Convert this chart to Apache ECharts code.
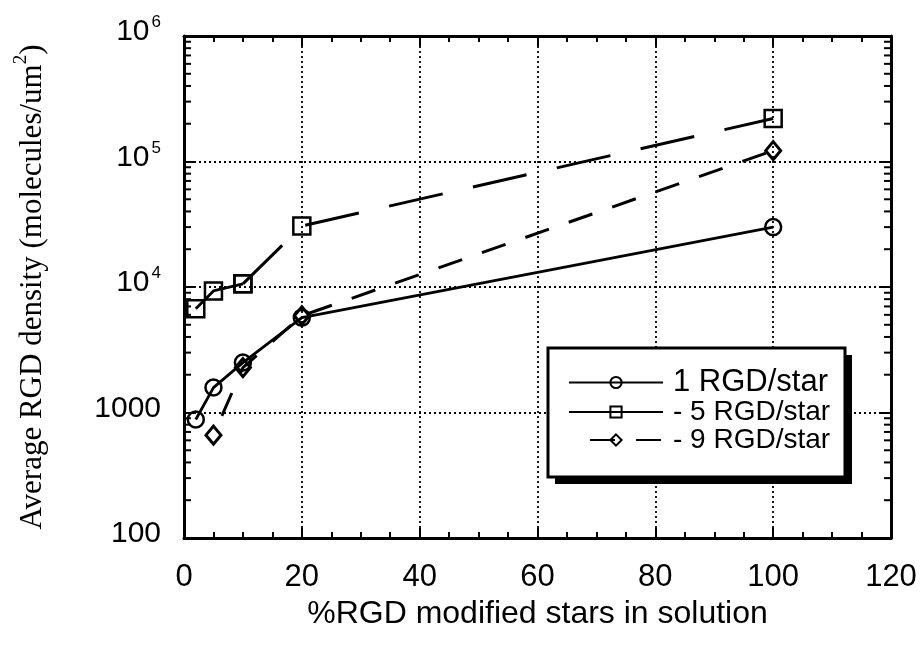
<!DOCTYPE html>
<html><head><meta charset="utf-8">
<script src="https://cdn.jsdelivr.net/npm/echarts@6/dist/echarts.min.js"></script>
<style>html,body{margin:0;padding:0;background:#fff}#c{width:920px;height:654px}</style>
</head><body><div id="c"></div>
<script>
// ---- data ----
const xOne = [2, 5, 10, 20, 100];
const yOne = [880, 1580, 2500, 5700, 30000];
const xFive = [2, 5, 10, 20, 100];
const yFive = [6700, 9300, 10600, 30600, 220000];
const xNine = [5, 10, 20, 100];
const yNine = [660, 2280, 5900, 122000];
const seriesNames = ['1 RGD/star', '- 5 RGD/star', '- 9 RGD/star'];
const xMin = 0, xMax = 120, xStep = 20;
const yMin = 100, yMax = 1000000;
const decades = [100, 1000, 10000, 100000];
const minorMult = [2, 3, 4, 5, 6, 7, 8, 9];
const xTitle = '%RGD modified stars in solution';
const yTitleMain = 'Average RGD density (molecules/um';
const yTitleSup = '2';

const pairs = (xs, ys) => xs.map((x, i) => [x, ys[i]]);
const sans = 'Liberation Sans, Arial, Helvetica, sans-serif';
const serif = 'Liberation Serif, Times New Roman, serif';

const chart = echarts.init(document.getElementById('c'), null, {renderer: 'canvas'});

const axLine = {show: true, onZero: false, lineStyle: {color: '#000', width: 3}};
const tickStyle = {color: '#000', width: 2};
const markerBase = {color: 'rgba(0,0,0,0)', borderColor: '#000', borderWidth: 2.5};

// legend frame (layout only)
const box = {x: 548, y: 348, w: 297, h: 129, off: 7};

const option = {
  animation: false,
  backgroundColor: '#fff',
  grid: {left: 184, right: 29, top: 36, bottom: 116, containLabel: false},
  graphic: [
    {type: 'rect', z: 10, shape: {x: box.x + box.off, y: box.y + box.off, width: box.w, height: box.h}, style: {fill: '#000'}, silent: true},
    {type: 'rect', z: 10, shape: {x: box.x, y: box.y, width: box.w, height: box.h}, style: {fill: '#fff', stroke: '#000', lineWidth: 3}, silent: true}
  ],
  legend: {
    left: 568, top: 367, orient: 'vertical', z: 20,
    data: seriesNames,
    padding: 0,
    itemWidth: 94, itemHeight: 14, itemGap: 0,
    formatter: n => n.charAt(0) === '-' ? '{c|' + n + '}' : '{a|' + n + '}',
    textStyle: {
      color: '#000', padding: [0, 0, 0, 5],
      rich: {
        a: {fontFamily: sans, fontSize: 31, color: '#000', lineHeight: 29},
        c: {fontFamily: sans, fontSize: 28, color: '#000', lineHeight: 29}
      }
    },
    selectedMode: false
  },
  xAxis: [{
    type: 'value', position: 'bottom', min: xMin, max: xMax, interval: xStep,
    axisLine: axLine,
    axisTick: {show: true, inside: true, length: 10, lineStyle: tickStyle},
    minorTick: {show: true, splitNumber: 4, length: 6, lineStyle: tickStyle},
    splitLine: {show: true, lineStyle: {color: '#000', type: [2, 3], width: 1.8}},
    axisLabel: {fontFamily: sans, fontSize: 31, color: '#000', margin: 24},
    name: xTitle, nameLocation: 'middle', nameGap: 54,
    nameTextStyle: {fontFamily: sans, fontSize: 32, color: '#000'}
  }, {
    type: 'value', position: 'top', min: xMin, max: xMax, interval: xStep,
    axisLine: axLine,
    axisTick: {show: true, inside: true, length: 10, lineStyle: tickStyle},
    minorTick: {show: true, splitNumber: 4, length: 6, lineStyle: tickStyle},
    splitLine: {show: false}, axisLabel: {show: false}
  }],
  yAxis: [{
    type: 'log', logBase: 10, position: 'left', min: yMin, max: yMax,
    axisLine: axLine,
    axisTick: {show: true, inside: true, length: 10, lineStyle: tickStyle},
    splitLine: {show: true, lineStyle: {color: '#000', type: [2, 3], width: 1.8}},
    axisLabel: {
      margin: 23, color: '#000', padding: [0, 0, 8, 0],
      formatter: v => v <= 1000 ? '{n|' + v + '}' : '{b|10}{s|' + Math.round(Math.log10(v)) + '}',
      rich: {
        n: {fontFamily: sans, fontSize: 30, color: '#000', lineHeight: 36},
        b: {fontFamily: sans, fontSize: 30, color: '#000', lineHeight: 36},
        s: {fontFamily: sans, fontSize: 17, color: '#000', lineHeight: 18, verticalAlign: 'top', padding: [0, 0, 0, 2]}
      }
    },
    name: '{a|' + yTitleMain + '}{s|' + yTitleSup + '}{a|)}',
    nameLocation: 'middle', nameRotate: 90, nameGap: 136,
    nameTextStyle: {
      rich: {
        a: {fontFamily: serif, fontSize: 31, color: '#000', lineHeight: 36, verticalAlign: 'bottom'},
        s: {fontFamily: serif, fontSize: 19, color: '#000', lineHeight: 19, verticalAlign: 'top'}
      }
    }
  }, {
    type: 'log', logBase: 10, position: 'right', min: yMin, max: yMax,
    axisLine: axLine,
    axisTick: {show: true, inside: true, length: 10, lineStyle: tickStyle},
    splitLine: {show: false}, axisLabel: {show: false}
  }],
  series: [{
    name: seriesNames[0], type: 'line', data: pairs(xOne, yOne),
    symbol: 'circle', symbolSize: 16,
    lineStyle: {color: '#000', width: 2.8, type: 'solid'},
    itemStyle: markerBase, z: 3
  }, {
    name: seriesNames[1], type: 'line', data: pairs(xFive.slice(0, 3), yFive.slice(0, 3)),
    symbol: 'rect', symbolSize: 17,
    lineStyle: {color: '#000', width: 2.8, type: 'solid'},
    itemStyle: markerBase, z: 3
  }, {
    name: seriesNames[1], type: 'line', data: pairs(xFive.slice(2), yFive.slice(2)),
    symbol: 'rect', symbolSize: 17,
    lineStyle: {color: '#000', width: 3, type: [55, 31]},
    itemStyle: markerBase, z: 3
  }, {
    name: seriesNames[2], type: 'line', data: pairs(xNine, yNine),
    symbol: 'diamond', symbolSize: [15, 18],
    lineStyle: {color: '#000', width: 3, type: [25, 21], dashOffset: 25},
    itemStyle: {color: 'rgba(0,0,0,0)', borderColor: '#000', borderWidth: 3}, z: 3
  }]
};
chart.setOption(option);

// minor log ticks on left and right y axes, positioned through the axis scale
const xl = chart.convertToPixel({xAxisIndex: 0}, xMin);
const xr = chart.convertToPixel({xAxisIndex: 0}, xMax);
const els = option.graphic.slice();
decades.forEach(d => minorMult.forEach(m => {
  const py = chart.convertToPixel({yAxisIndex: 0}, d * m);
  els.push({type: 'line', z: 5, shape: {x1: xl, y1: py, x2: xl + 7, y2: py}, style: {stroke: '#000', lineWidth: 2}, silent: true});
  els.push({type: 'line', z: 5, shape: {x1: xr, y1: py, x2: xr - 7, y2: py}, style: {stroke: '#000', lineWidth: 2}, silent: true});
}));
chart.setOption({graphic: els});
</script>
</body></html>
